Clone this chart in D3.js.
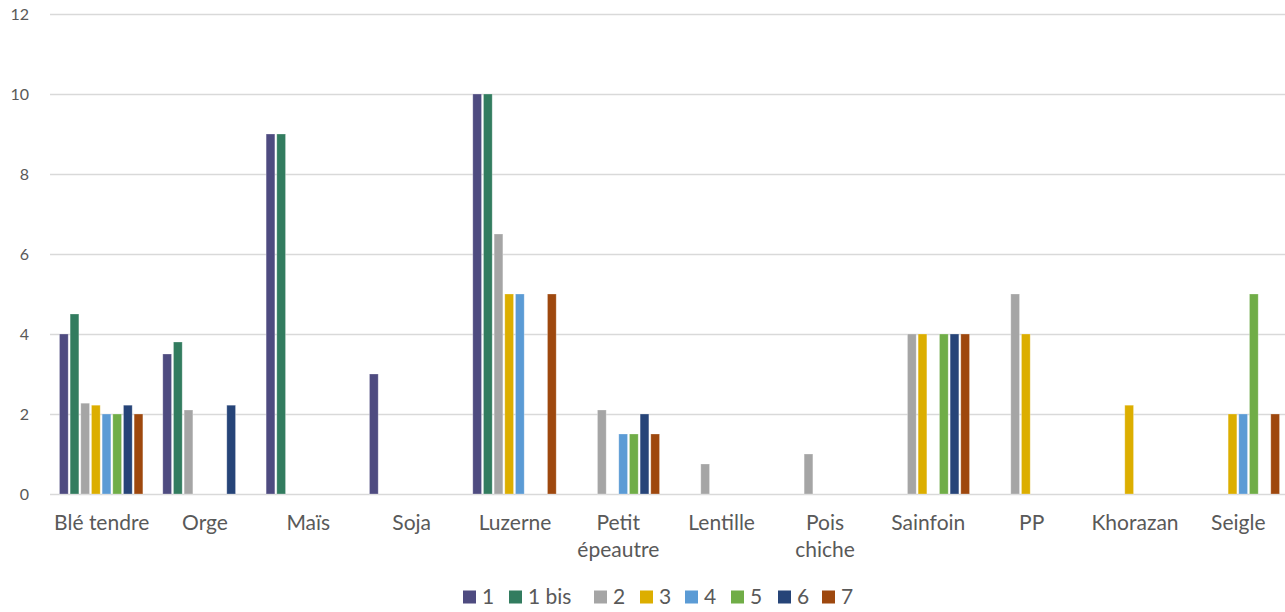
<!DOCTYPE html>
<html>
<head>
<meta charset="utf-8">
<script src="https://cdn.jsdelivr.net/npm/d3@7"></script>
<style>
html,body{margin:0;padding:0;background:#fff;}
svg text{font-family:Lato,"Open Sans",sans-serif;fill:#595959;}
</style>
</head>
<body>
<svg id="chart" width="1285" height="612"></svg>
<script>
const categories = ["Blé tendre","Orge","Maïs","Soja","Luzerne","Petit\népeautre","Lentille","Pois\nchiche","Sainfoin","PP","Khorazan","Seigle"];
const seriesNames = ["1","1 bis","2","3","4","5","6","7"];
const s1    = [4,   3.5, 9, 3, 10, 0,   0,    0, 0, 0, 0,    0];
const s1bis = [4.5, 3.8, 9, 0, 10, 0,   0,    0, 0, 0, 0,    0];
const s2    = [2.27,2.1, 0, 0, 6.5,2.1, 0.75, 1, 4, 5, 0,    0];
const s3    = [2.22,0,   0, 0, 5,  0,   0,    0, 4, 4, 2.22, 2];
const s4    = [2,   0,   0, 0, 5,  1.5, 0,    0, 0, 0, 0,    2];
const s5    = [2,   0,   0, 0, 0,  1.5, 0,    0, 4, 0, 0,    5];
const s6    = [2.22,2.22,0, 0, 0,  2,   0,    0, 4, 0, 0,    0];
const s7    = [2,   0,   0, 0, 5,  1.5, 0,    0, 4, 0, 0,    2];
const seriesValues = [s1,s1bis,s2,s3,s4,s5,s6,s7];
const colors = ["#4e4b80","#327c5f","#a5a5a5","#dcae00","#5b9bd5","#70ad47","#264478","#9e480e"];
const yTicks = [0,2,4,6,8,10,12];

const svg = d3.select("#chart");
const x = d3.scaleBand().domain(categories).range([50,1290]).padding(0);
const xi = d3.scaleBand().domain(seriesNames).range([8.5, x.bandwidth()-9.5]).paddingInner(0.18).paddingOuter(0.09);
const y = d3.scaleLinear().domain([0,12]).range([494,14]);

// grid
const yAxis = d3.axisLeft(y).tickValues(yTicks).tickSize(-(1290-50)).tickPadding(21).tickFormat(d3.format("d"));
const gy = svg.append("g").attr("transform","translate(50,0)").call(yAxis);
gy.select(".domain").remove();
gy.selectAll(".tick line").attr("stroke","#d9d9d9").attr("stroke-width",1.3);
gy.selectAll(".tick text").attr("font-size",16).attr("dy","0.35em").style("fill","#595959");

// bars
const g = svg.append("g");
seriesValues.forEach((vals,si)=>{
  g.selectAll(null).data(vals.map((v,i)=>({v,c:categories[i]})).filter(d=>d.v>0))
    .enter().append("rect")
    .attr("x",d=>x(d.c)+xi(seriesNames[si]))
    .attr("width",xi.bandwidth())
    .attr("y",d=>y(d.v))
    .attr("height",d=>y(0)-y(d.v))
    .attr("fill",colors[si])
    .attr("stroke","#ffffff").attr("stroke-opacity",0.35).attr("stroke-width",0.8);
});

// x labels
const xl = svg.append("g");
categories.forEach(c=>{
  const lines = c.split("\n");
  const t = xl.append("text").attr("text-anchor","middle")
    .attr("x",x(c)+x.bandwidth()/2).attr("y",530).attr("font-size",21);
  lines.forEach((ln,i)=>t.append("tspan").attr("x",x(c)+x.bandwidth()/2).attr("dy",i===0?0:27).text(ln));
});

// legend
const legendX = [463,509,594,640,685,731,778,822];
const lg = svg.append("g");
seriesNames.forEach((s,i)=>{
  lg.append("rect").attr("x",legendX[i]).attr("y",590.5).attr("width",13).attr("height",13).attr("fill",colors[i]);
  lg.append("text").attr("x",legendX[i]+19).attr("y",604).attr("font-size",21).text(s);
});
</script>
</body>
</html>
